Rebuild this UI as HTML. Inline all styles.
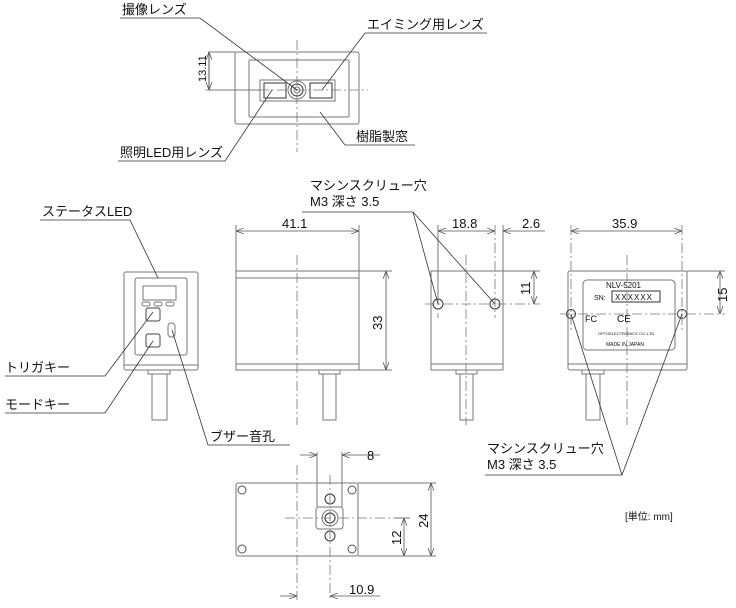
<!DOCTYPE html><html><head><meta charset="utf-8"><style>
html,body{margin:0;padding:0;background:#fff}
svg{display:block}
text{font-family:"Liberation Sans","Noto Sans CJK JP",sans-serif;fill:#111}
</style></head><body>
<svg width="736" height="608" viewBox="0 0 736 608">
<defs>
<marker id="a" markerWidth="8" markerHeight="6" refX="8" refY="3" orient="auto" markerUnits="userSpaceOnUse"><path d="M0,0 L8,3 L0,6" fill="none" stroke="#555" stroke-width="0.8"/></marker>
</defs>
<g fill="none" stroke="#777" stroke-width="1">
<!-- top view -->
<rect x="235" y="52" width="124" height="72" rx="2"/>
<rect x="249" y="60" width="100" height="57" rx="1"/>
<rect x="260" y="80" width="75" height="21"/>
<rect x="264" y="83" width="22" height="15" stroke="#333"/>
<rect x="310" y="83" width="22" height="15" stroke="#333"/>
<circle cx="297" cy="90" r="9"/><circle cx="297" cy="90" r="6" stroke="#333"/><circle cx="297" cy="90" r="3"/>
<g stroke-dasharray="10,3,2,3" stroke-width="0.8"><line x1="297" y1="40" x2="297" y2="152"/><line x1="205" y1="90" x2="368" y2="90"/></g>
<line x1="208" y1="52" x2="235" y2="52"/><line x1="208" y1="90" x2="260" y2="90"/>
<line x1="209" y1="52" x2="209" y2="90" stroke="#555"/>
<!-- left view -->
<rect x="124" y="272" width="74" height="98" rx="2"/>
<rect x="135" y="278" width="52" height="77" rx="2"/>
<line x1="124" y1="365" x2="198" y2="365"/>
<rect x="143" y="286" width="33" height="14"/>
<rect x="142" y="302" width="8" height="4" rx="2"/><rect x="154" y="302" width="8" height="4" rx="2"/><rect x="166" y="302" width="8" height="4" rx="2"/>
<rect x="146" y="308" width="14" height="13" rx="2" stroke="#444"/>
<rect x="146" y="334" width="14" height="13" rx="2" stroke="#444"/>
<rect x="168" y="323" width="7" height="14" rx="3"/>
<rect x="148" y="370" width="22" height="4"/>
<rect x="152" y="374" width="15" height="46"/>
<!-- front view -->
<rect x="236" y="271" width="123" height="99"/>
<line x1="236" y1="278" x2="359" y2="278"/><line x1="236" y1="364" x2="359" y2="364"/>
<rect x="319" y="370" width="21" height="4"/>
<rect x="323" y="374" width="13" height="46"/>
<line x1="297" y1="255" x2="297" y2="425" stroke-dasharray="10,3,2,3" stroke-width="0.8"/>
<line x1="236" y1="225" x2="236" y2="271"/><line x1="359" y1="225" x2="359" y2="271"/>
<line x1="359" y1="271" x2="392" y2="271"/><line x1="359" y1="370" x2="392" y2="370"/>
<!-- side view -->
<rect x="431" y="271" width="72" height="99"/>
<line x1="431" y1="364" x2="503" y2="364"/>
<rect x="456" y="370" width="21" height="4"/>
<rect x="460" y="374" width="13" height="46"/>
<circle cx="438" cy="304" r="5" stroke="#333"/><circle cx="495" cy="304" r="5" stroke="#333"/>
<g stroke-dasharray="10,3,2,3" stroke-width="0.8"><line x1="466" y1="255" x2="466" y2="425"/><line x1="425" y1="304" x2="540" y2="304"/><line x1="438" y1="295" x2="438" y2="318"/><line x1="495" y1="225" x2="495" y2="318"/></g>
<line x1="438" y1="225" x2="438" y2="300"/><line x1="503" y1="225" x2="503" y2="271"/>
<line x1="503" y1="271" x2="540" y2="271"/>
<!-- rear view -->
<rect x="568" y="271" width="119" height="99" rx="2"/>
<line x1="568" y1="364" x2="687" y2="364"/>
<rect x="583" y="280" width="92" height="70" rx="4"/>
<rect x="612" y="291" width="48" height="11" stroke="#333"/>
<circle cx="571" cy="314" r="4.5" stroke="#333"/><circle cx="682" cy="314" r="4.5" stroke="#333"/>
<rect x="582" y="370" width="22" height="4"/>
<rect x="586" y="374" width="14" height="46"/>
<g stroke-dasharray="10,3,2,3" stroke-width="0.8"><line x1="627" y1="255" x2="627" y2="425"/><line x1="560" y1="314" x2="725" y2="314"/><line x1="571" y1="225" x2="571" y2="330"/><line x1="682" y1="225" x2="682" y2="330"/></g>
<line x1="687" y1="271" x2="725" y2="271"/>
<!-- bottom view -->
<rect x="236" y="483" width="122" height="73" rx="2"/>
<g stroke="#555"><circle cx="242" cy="490" r="4"/><circle cx="352" cy="490" r="4"/><circle cx="242" cy="549" r="4"/><circle cx="352" cy="549" r="4"/></g>
<rect x="316" y="507" width="27" height="22" rx="3"/>
<circle cx="330" cy="518" r="8"/><circle cx="330" cy="518" r="5" stroke="#333"/>
<circle cx="330" cy="499" r="5" stroke="#333"/><circle cx="330" cy="536" r="5" stroke="#333"/>
<g stroke-dasharray="10,3,2,3" stroke-width="0.8"><line x1="297" y1="465" x2="297" y2="600"/><line x1="285" y1="518" x2="410" y2="518"/><line x1="330" y1="475" x2="330" y2="600"/></g>
<line x1="317" y1="452" x2="317" y2="507"/><line x1="342" y1="452" x2="342" y2="507"/>
<line x1="358" y1="483" x2="436" y2="483"/><line x1="358" y1="556" x2="436" y2="556"/>
<line x1="395" y1="518" x2="410" y2="518"/>
</g>
<!-- dimension lines -->
<g stroke="#555" stroke-width="0.8" fill="none">
<line x1="209" y1="71" x2="209" y2="52" marker-end="url(#a)"/><line x1="209" y1="71" x2="209" y2="90" marker-end="url(#a)"/>
<line x1="297" y1="231" x2="236" y2="231" marker-end="url(#a)"/><line x1="297" y1="231" x2="359" y2="231" marker-end="url(#a)"/>
<line x1="386" y1="320" x2="386" y2="271" marker-end="url(#a)"/><line x1="386" y1="320" x2="386" y2="370" marker-end="url(#a)"/>
<line x1="466" y1="231" x2="438" y2="231" marker-end="url(#a)"/><line x1="466" y1="231" x2="495" y2="231" marker-end="url(#a)"/>
<line x1="545" y1="231" x2="503" y2="231" marker-end="url(#a)"/>
<line x1="534" y1="287" x2="534" y2="271" marker-end="url(#a)"/><line x1="534" y1="287" x2="534" y2="304" marker-end="url(#a)"/>
<line x1="627" y1="231" x2="571" y2="231" marker-end="url(#a)"/><line x1="627" y1="231" x2="682" y2="231" marker-end="url(#a)"/>
<line x1="720" y1="292" x2="720" y2="271" marker-end="url(#a)"/><line x1="720" y1="292" x2="720" y2="314" marker-end="url(#a)"/>
<line x1="300" y1="455" x2="317" y2="455" marker-end="url(#a)"/><line x1="380" y1="455" x2="342" y2="455" marker-end="url(#a)"/>
<line x1="431" y1="520" x2="431" y2="483" marker-end="url(#a)"/><line x1="431" y1="520" x2="431" y2="556" marker-end="url(#a)"/>
<line x1="404" y1="537" x2="404" y2="518" marker-end="url(#a)"/><line x1="404" y1="537" x2="404" y2="556" marker-end="url(#a)"/>
<line x1="280" y1="596" x2="297" y2="596" marker-end="url(#a)"/><line x1="380" y1="596" x2="330" y2="596" marker-end="url(#a)"/>
</g>
<!-- leaders -->
<g stroke="#333" stroke-width="0.8" fill="none">
<polyline points="120,18 200,18 297,90"/>
<polyline points="487,33 365,33 322,90"/>
<polyline points="118,161 225,161 272,90"/>
<polyline points="415,145 345,145 320,112"/>
<polyline points="40,220 130,220 158,278"/>
<polyline points="5,376 105,376 153,312"/>
<polyline points="5,413 105,413 153,341"/>
<polyline points="290,445 208,445 172,330"/>
<polyline points="302,212 413,212 438,304"/><line x1="413" y1="212" x2="495" y2="304"/>
<polyline points="485,475 622,475 571,314"/><line x1="622" y1="475" x2="682" y2="314"/>
</g>
<g font-size="13">
<text x="122" y="14">撮像レンズ</text>
<text x="367" y="29">エイミング用レンズ</text>
<text x="120" y="157">照明LED用レンズ</text>
<text x="356" y="141">樹脂製窓</text>
<text x="42" y="216">ステータスLED</text>
<text x="5" y="372">トリガキー</text>
<text x="5" y="409">モードキー</text>
<text x="210" y="441">ブザー音孔</text>
<text x="310" y="190">マシンスクリュー穴</text>
<text x="310" y="206">M3 深さ 3.5</text>
<text x="487" y="453">マシンスクリュー穴</text>
<text x="487" y="469">M3 深さ 3.5</text>
<text x="282" y="228">41.1</text>
<text x="452" y="228">18.8</text>
<text x="522" y="228">2.6</text>
<text x="612" y="228">35.9</text>
<text x="367" y="460">8</text>
<text x="349" y="594">10.9</text>
<text transform="translate(382,330) rotate(-90)">33</text>
<text transform="translate(530,295) rotate(-90)">11</text>
<text transform="translate(727,302) rotate(-90)">15</text>
<text transform="translate(428,528) rotate(-90)">24</text>
<text transform="translate(401,545) rotate(-90)">12</text>
<text transform="translate(206,82) rotate(-90)" font-size="11">13.11</text>
</g>
<text x="625" y="520" font-size="10">[単位: mm]</text>
<g font-size="7" fill="#444">
<text x="606" y="288" font-size="8">NLV-5201</text>
<text x="594" y="300" font-size="7">SN:</text>
<text x="615" y="300" font-size="8" letter-spacing="1">XXXXXX</text>
<text x="585" y="322" font-size="9">FC</text>
<text x="617" y="322" font-size="10">CE</text>
<text x="598" y="335" font-size="4">OPTOELECTRONICS CO.,LTD</text>
<text x="606" y="346" font-size="5">MADE IN JAPAN</text>
</g>
</svg>
</body></html>
